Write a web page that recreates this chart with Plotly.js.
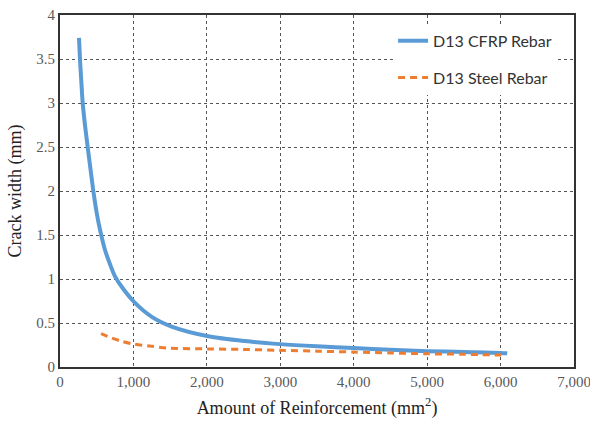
<!DOCTYPE html>
<html>
<head>
<meta charset="utf-8">
<script src="https://cdn.plot.ly/plotly-3.0.1.min.js"></script>
<style>html,body{margin:0;padding:0;background:#fff;}#chart{width:590px;height:424px;}</style>
</head>
<body>
<div id="chart"></div>
<script>
// Amount of reinforcement (mm²) and crack width (mm)
const cfrpArea  = [259, 272, 290, 309, 340, 377, 415, 454, 500, 545, 613, 680, 749, 850, 1008, 1250, 1520, 2020, 2520, 3000, 3500, 4000, 4500, 5000, 5500, 6000, 6090];
const cfrpWidth = [3.74, 3.5, 3.25, 3.0, 2.75, 2.5, 2.25, 2.0, 1.75, 1.56, 1.33, 1.17, 1.03, 0.9, 0.74, 0.57, 0.46, 0.35, 0.295, 0.26, 0.235, 0.215, 0.195, 0.18, 0.17, 0.16, 0.155];

const steelArea  = [559, 700, 850, 1008, 1250, 1471, 2020, 2500, 3000, 3500, 4000, 4500, 5000, 5500, 6010];
const steelWidth = [0.38, 0.33, 0.29, 0.26, 0.235, 0.215, 0.205, 0.2, 0.19, 0.18, 0.17, 0.16, 0.15, 0.145, 0.135];

const seriesNames = ["D13 CFRP Rebar", "D13 Steel Rebar"];

const traces = [
  {x: cfrpArea, y: cfrpWidth, name: seriesNames[0], legendgroup: "a", type: "scatter", mode: "lines",
   line: {color: "#5B9BD5", width: 4, shape: "spline", smoothing: 0.8}},
  {x: steelArea, y: steelWidth, name: seriesNames[1], legendgroup: "b", type: "scatter", mode: "lines",
   line: {color: "#ED7D31", width: 3, dash: "7px,5px", shape: "spline", smoothing: 0.8}}
];

const serif = "Liberation Serif, Times New Roman, serif";
const layout = {
  width: 590, height: 424,
  margin: {l: 60, r: 16, t: 15, b: 57},
  paper_bgcolor: "#fff", plot_bgcolor: "#fff",
  showlegend: true,
  legend: {x: 0.648, y: 0.975, xanchor: "left", yanchor: "top",
           bgcolor: "rgba(255,255,255,1)", borderwidth: 0,
           font: {family: "Lato, Liberation Sans, sans-serif", size: 16, color: "#333"},
           tracegroupgap: 13},
  xaxis: {
    range: [0, 7000], dtick: 1000, tickformat: ",",
    showgrid: true, gridcolor: "#555", griddash: "3px,3px", gridwidth: 1,
    showline: true, linecolor: "#333", linewidth: 2, mirror: true,
    zeroline: false, ticks: "", ticklabeloverflow: "allow",
    tickfont: {family: serif, size: 15, color: "#595959"},
    title: {text: "Amount of Reinforcement (mm<sup>2</sup>)", font: {family: serif, size: 18, color: "#222"}, standoff: 12}
  },
  yaxis: {
    range: [0, 4], dtick: 0.5,
    showgrid: true, gridcolor: "#555", griddash: "3px,3px", gridwidth: 1,
    showline: true, linecolor: "#333", linewidth: 2, mirror: true,
    zeroline: false, ticks: "",
    tickfont: {family: serif, size: 15, color: "#595959"},
    title: {text: "Crack width (mm)", font: {family: serif, size: 18, color: "#222"}, standoff: 10}
  }
};

Plotly.newPlot("chart", traces, layout, {displayModeBar: false, staticPlot: true});
</script>
</body>
</html>
